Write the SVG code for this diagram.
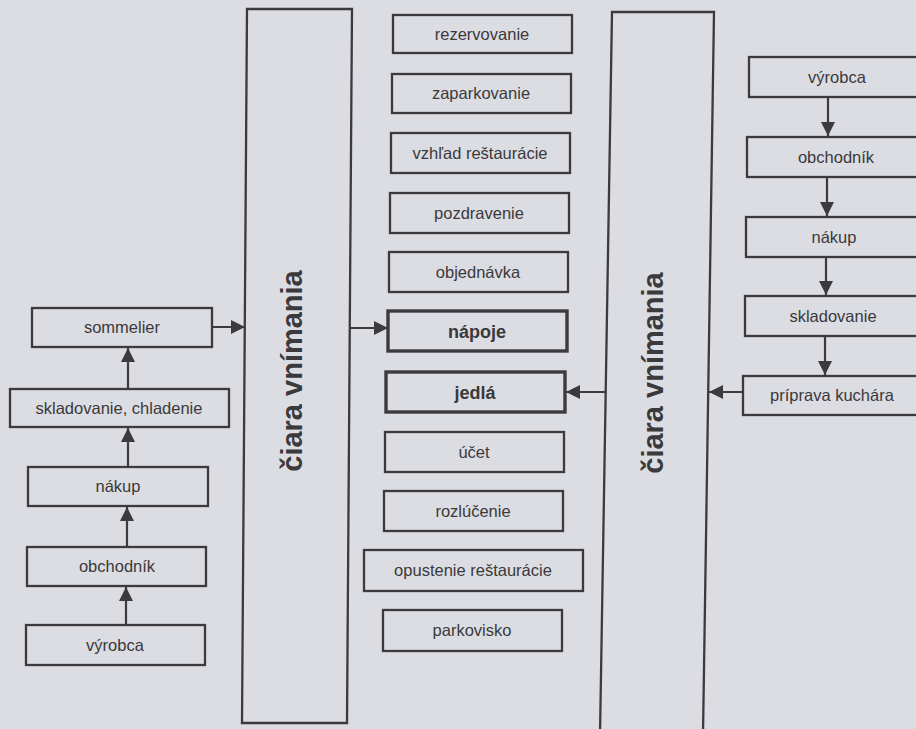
<svg xmlns="http://www.w3.org/2000/svg" width="916" height="729" viewBox="0 0 916 729">
<style>
.box{fill:none;stroke:#3b3a3c;stroke-width:2.3}
.bbox{fill:none;stroke:#3b3a3c;stroke-width:3.4}
.t{font-family:"Liberation Sans",Arial,sans-serif;font-size:16.5px;fill:#3a393b;text-anchor:middle}
.tb{font-family:"Liberation Sans",Arial,sans-serif;font-size:18px;font-weight:bold;fill:#3a393b;text-anchor:middle}
.tv{font-family:"Liberation Sans",Arial,sans-serif;font-size:29px;font-weight:bold;fill:#3a393b;text-anchor:middle}
.c{stroke:#3b3a3c;stroke-width:2.2;fill:none;marker-end:url(#ah)}
</style>
<defs>
<marker id="ah" viewBox="0 0 14 14" refX="14" refY="7" markerWidth="14" markerHeight="14" markerUnits="userSpaceOnUse" orient="auto">
<path d="M0,0 L14,7 L0,14 Z" fill="#3b3a3c"/>
</marker>
</defs>
<rect width="916" height="729" fill="#dcdde3"/>

<g id="connectors">
<line class="c" x1="128" y1="389" x2="128" y2="348"/>
<line class="c" x1="128" y1="467" x2="128" y2="428"/>
<line class="c" x1="127" y1="547" x2="127" y2="507"/>
<line class="c" x1="126" y1="625" x2="126" y2="587"/>
<line class="c" x1="212" y1="327" x2="245" y2="327"/>
<line class="c" x1="350" y1="328" x2="388" y2="328"/>
<line class="c" x1="606" y1="392" x2="566" y2="392"/>
<line class="c" x1="743" y1="392" x2="709" y2="392"/>
<line class="c" x1="828" y1="97" x2="828" y2="136"/>
<line class="c" x1="827" y1="177" x2="827" y2="216"/>
<line class="c" x1="826" y1="257" x2="826" y2="295"/>
<line class="c" x1="825" y1="336" x2="825" y2="375"/>
</g>

<g id="l-sommelier"><rect class="box" x="32" y="308" width="180" height="39"/><text class="t" x="122" y="333">sommelier</text></g>
<g id="l-skladovanie"><rect class="box" x="10" y="389" width="219" height="38"/><text class="t" x="119" y="414">skladovanie, chladenie</text></g>
<g id="l-nakup"><rect class="box" x="28" y="467" width="180" height="39"/><text class="t" x="118" y="492">nákup</text></g>
<g id="l-obchodnik"><rect class="box" x="27" y="547" width="179" height="39"/><text class="t" x="117" y="572">obchodník</text></g>
<g id="l-vyrobca"><rect class="box" x="26" y="625" width="179" height="40"/><text class="t" x="115" y="651">výrobca</text></g>

<g id="ciara-left"><polygon class="box" points="247,9 352,9 347,723 242,723"/><text class="tv" transform="translate(302,371) rotate(-90)">čiara vnímania</text></g>

<g id="c-rezervovanie"><rect class="box" x="393" y="15" width="179" height="38"/><text class="t" x="482" y="40">rezervovanie</text></g>
<g id="c-zaparkovanie"><rect class="box" x="392" y="74" width="179" height="39"/><text class="t" x="481" y="99">zaparkovanie</text></g>
<g id="c-vzhlad"><rect class="box" x="391" y="133" width="179" height="40"/><text class="t" x="480" y="159">vzhľad reštaurácie</text></g>
<g id="c-pozdravenie"><rect class="box" x="390" y="193" width="179" height="40"/><text class="t" x="479" y="219">pozdravenie</text></g>
<g id="c-objednavka"><rect class="box" x="389" y="252" width="179" height="40"/><text class="t" x="478" y="278">objednávka</text></g>
<g id="c-napoje"><rect class="bbox" x="388" y="311" width="179" height="40"/><text class="tb" x="477" y="338">nápoje</text></g>
<g id="c-jedla"><rect class="bbox" x="386" y="372" width="179" height="40"/><text class="tb" x="475" y="399">jedlá</text></g>
<g id="c-ucet"><rect class="box" x="385" y="432" width="179" height="40"/><text class="t" x="474" y="458">účet</text></g>
<g id="c-rozlucenie"><rect class="box" x="384" y="491" width="179" height="40"/><text class="t" x="473" y="517">rozlúčenie</text></g>
<g id="c-opustenie"><rect class="box" x="364" y="550" width="219" height="41"/><text class="t" x="473" y="576">opustenie reštaurácie</text></g>
<g id="c-parkovisko"><rect class="box" x="383" y="610" width="179" height="41"/><text class="t" x="472" y="636">parkovisko</text></g>

<g id="ciara-right"><polygon class="box" points="612,12 714,12 703,735 600,735"/><text class="tv" transform="translate(663,373) rotate(-90)">čiara vnímania</text></g>

<g id="r-vyrobca"><rect class="box" x="749" y="57" width="178" height="40"/><text class="t" x="837" y="83">výrobca</text></g>
<g id="r-obchodnik"><rect class="box" x="747" y="137" width="180" height="40"/><text class="t" x="836" y="163">obchodník</text></g>
<g id="r-nakup"><rect class="box" x="746" y="217" width="181" height="40"/><text class="t" x="834" y="243">nákup</text></g>
<g id="r-skladovanie"><rect class="box" x="745" y="296" width="182" height="40"/><text class="t" x="833" y="322">skladovanie</text></g>
<g id="r-priprava"><rect class="box" x="743" y="376" width="184" height="39"/><text class="t" x="832" y="401">príprava kuchára</text></g>
</svg>
